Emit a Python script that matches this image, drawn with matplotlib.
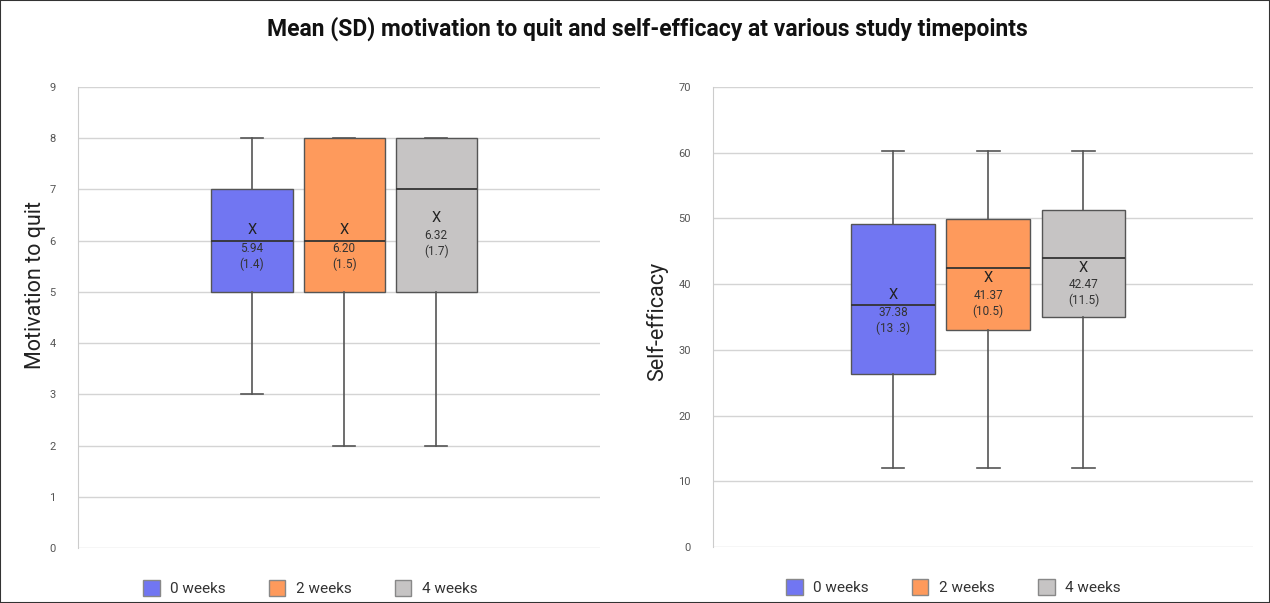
import matplotlib.pyplot as plt
from matplotlib.patches import Patch, Rectangle

plt.rcParams['font.family'] = ['Roboto', 'DejaVu Sans']

# Daten
groups = ['0 weeks', '2 weeks', '4 weeks']
colors = ['#7176f2', '#fe9a5c', '#c6c4c4']

mot_whislo = [3, 2, 2]
mot_q1 = [5, 5, 5]
mot_med = [6, 6, 7]
mot_q3 = [7, 8, 8]
mot_whishi = [8, 8, 8]
mot_mean = [5.94, 6.20, 6.32]
mot_sd = [1.4, 1.5, 1.7]
mot_xpos = [6.2, 6.2, 6.45]  # Position des X-Markers

se_whislo = [12, 12, 12]
se_q1 = [26.3, 33.0, 35.0]
se_med = [36.9, 42.4, 44.0]
se_q3 = [49.2, 49.9, 51.3]
se_whishi = [60.2, 60.2, 60.2]
se_mean = ['37.38', '41.37', '42.47']
se_sd = ['13 .3', '10.5', '11.5']
se_xpos = [38.3, 40.9, 42.5]


def draw_panel(ax, lo, q1, med, q3, hi, xpos, mean_txt, sd_txt, ymax, ystep, ylabel, off, label_xy):
    stats = []
    for i in range(len(groups)):
        stats.append({'whislo': lo[i], 'q1': q1[i], 'med': med[i], 'q3': q3[i],
                      'whishi': hi[i], 'fliers': []})
    bp = ax.bxp(stats, positions=[1, 2, 3], widths=0.88, patch_artist=True,
                showfliers=False, capwidths=0.24,
                boxprops=dict(linewidth=1.0, edgecolor='#555555'),
                medianprops=dict(color='#333333', linewidth=1.3),
                whiskerprops=dict(color='#555555', linewidth=1.2),
                capprops=dict(color='#555555', linewidth=1.2))
    for patch, c in zip(bp['boxes'], colors):
        patch.set_facecolor(c)
        patch.set_zorder(2)
    for i in range(len(groups)):
        ax.text(i + 1, xpos[i], 'X', ha='center', va='center', fontsize=10.5,
                color='#222222', zorder=4)
        ax.text(i + 1, xpos[i] - off, f'{mean_txt[i]}\n({sd_txt[i]})', ha='center',
                va='top', fontsize=8.5, color='#333333', linespacing=1.25, zorder=4)

    ax.set_xlim(-0.89, 4.78)
    ax.set_ylim(0, ymax)
    ax.set_yticks(range(0, ymax + 1, ystep))
    ax.set_xticks([])
    ax.yaxis.grid(True, color='#d4d4d4', linewidth=1.0)
    ax.set_axisbelow(True)
    ax.tick_params(axis='y', length=0, labelsize=8, labelcolor='#555555', pad=16)
    for s in ['top', 'right', 'bottom']:
        ax.spines[s].set_visible(False)
    ax.spines['left'].set_color('#cccccc')
    ax.set_ylabel(ylabel, fontsize=15.5, color='#222222')
    ax.yaxis.set_label_coords(*label_xy)

    handles = [Patch(facecolor=c, edgecolor='#888888', label=g) for c, g in zip(colors, groups)]
    ax.legend(handles=handles, loc='upper center', bbox_to_anchor=(0.445, -0.04), ncol=3,
              frameon=False, fontsize=11, handlelength=1.1, handleheight=1.2,
              columnspacing=2.8, handletextpad=0.7, labelcolor='#333333')


fig = plt.figure(figsize=(12.7, 6.03), dpi=100)
fig.add_artist(Rectangle((0, 0), 1, 1, transform=fig.transFigure, fill=False,
                         edgecolor='#333333', linewidth=1.5))

ax1 = fig.add_axes([78 / 1270, 55 / 603, 522 / 1270, 461 / 603])
ax2 = fig.add_axes([713 / 1270, 56 / 603, 540 / 1270, 460 / 603])

draw_panel(ax1, mot_whislo, mot_q1, mot_med, mot_q3, mot_whishi, mot_xpos,
           ['%.2f' % m for m in mot_mean], mot_sd, 9, 1, 'Motivation to quit', 0.22,
           (-0.062, 0.57))
draw_panel(ax2, se_whislo, se_q1, se_med, se_q3, se_whishi, se_xpos,
           se_mean, se_sd, 70, 10, 'Self-efficacy', 1.6, (-0.084, 0.49))

fig.text(0.51, 0.953, 'Mean (SD) motivation to quit and self-efficacy at various study timepoints',
         ha='center', va='center', fontsize=16.5, fontweight='bold', color='#111111')

plt.savefig('out.png', dpi=100)
